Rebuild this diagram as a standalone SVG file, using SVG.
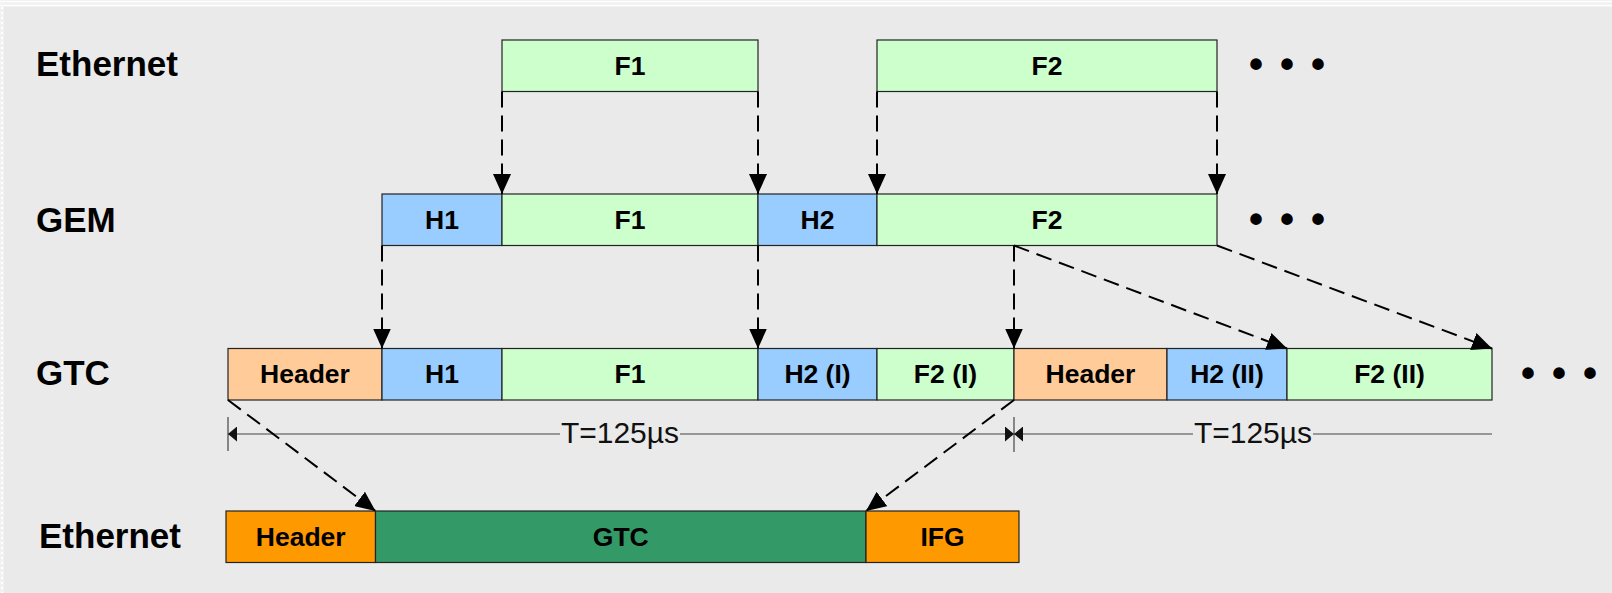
<svg xmlns="http://www.w3.org/2000/svg" width="1612" height="593" viewBox="0 0 1612 593">
  <style>
    .lbl { font-family: "Liberation Sans", Arial, sans-serif; font-weight: bold; font-size: 35px; fill: #000; }
    .cell { stroke: #222; stroke-width: 1.2; }
    .txt { font-family: "Liberation Sans", Arial, sans-serif; font-weight: bold; font-size: 26.5px; fill: #000; text-anchor: middle; }
    .dots { font-family: "Liberation Sans", Arial, sans-serif; font-weight: bold; font-size: 40px; letter-spacing: 17px; fill: #000; }
    .green { fill: #CCFFCC; }
    .blue { fill: #99CCFF; }
    .peach { fill: #FFCC99; }
    .orange { fill: #FF9900; }
    .dark { fill: #339966; }
    .link { fill: none; stroke: #000; stroke-width: 2; stroke-dasharray: 16 8; marker-end: url(#arrow); }
    .dim { fill: none; stroke: #444; stroke-width: 1.2; }
    .dimtxt { font-family: "Liberation Sans", Arial, sans-serif; font-size: 30px; fill: #111; text-anchor: middle; }
  </style>
  <defs>
    <marker id="arrow" markerUnits="userSpaceOnUse" viewBox="0 0 20 18" refX="20" refY="9" markerWidth="20" markerHeight="18" orient="auto">
      <path d="M0,0 L20,9 L0,18 z" fill="#000"/>
    </marker>
    <marker id="dimarrow" markerUnits="userSpaceOnUse" viewBox="0 0 9 15" refX="9" refY="7.5" markerWidth="9" markerHeight="15" orient="auto">
      <path d="M0,0 L9,7.5 L0,15 z" fill="#111"/>
    </marker>
  </defs>

  <!-- page background with light top frame -->
  <rect x="0" y="0" width="1612" height="593" fill="#EAEAEA"/>
  <rect x="0" y="0" width="1612" height="7" fill="#F3F3F3"/>
  <line x1="0" y1="1.5" x2="1612" y2="1.5" stroke="#FFFFFF" stroke-width="1"/>
  <line x1="0" y1="5.5" x2="1612" y2="5.5" stroke="#FFFFFF" stroke-width="1"/>
  <rect x="0" y="7" width="4" height="586" fill="#F1F1F1"/>
  <line x1="2" y1="7" x2="2" y2="593" stroke="#FFFFFF" stroke-width="2" stroke-dasharray="2 3"/>

  <!-- row titles -->
  <g id="row-labels">
    <text class="lbl" x="36" y="76">Ethernet</text>
    <text class="lbl" x="36" y="231.5">GEM</text>
    <text class="lbl" x="36" y="385">GTC</text>
    <text class="lbl" x="39" y="547.5">Ethernet</text>
  </g>

  <!-- Ethernet frames -->
  <g id="eth-f1">
    <rect class="cell green" x="502" y="40" width="256" height="51.5"/>
    <text class="txt" x="630" y="74.5">F1</text>
  </g>
  <g id="eth-f2">
    <rect class="cell green" x="877" y="40" width="340" height="51.5"/>
    <text class="txt" x="1047" y="74.5">F2</text>
  </g>
  <text class="dots" x="1249" y="78">•••</text>

  <!-- GEM frames -->
  <g id="gem-h1">
    <rect class="cell blue" x="382" y="194" width="120" height="51.5"/>
    <text class="txt" x="442" y="229">H1</text>
  </g>
  <g id="gem-f1">
    <rect class="cell green" x="502" y="194" width="256" height="51.5"/>
    <text class="txt" x="630" y="229">F1</text>
  </g>
  <g id="gem-h2">
    <rect class="cell blue" x="758" y="194" width="119" height="51.5"/>
    <text class="txt" x="817.5" y="229">H2</text>
  </g>
  <g id="gem-f2">
    <rect class="cell green" x="877" y="194" width="340" height="51.5"/>
    <text class="txt" x="1047" y="229">F2</text>
  </g>
  <text class="dots" x="1249" y="232.5">•••</text>

  <!-- GTC frames -->
  <g id="gtc-header1">
    <rect class="cell peach" x="228" y="348.5" width="154" height="51.5"/>
    <text class="txt" x="305" y="383">Header</text>
  </g>
  <g id="gtc-h1">
    <rect class="cell blue" x="382" y="348.5" width="120" height="51.5"/>
    <text class="txt" x="442" y="383">H1</text>
  </g>
  <g id="gtc-f1">
    <rect class="cell green" x="502" y="348.5" width="256" height="51.5"/>
    <text class="txt" x="630" y="383">F1</text>
  </g>
  <g id="gtc-h2-i">
    <rect class="cell blue" x="758" y="348.5" width="119" height="51.5"/>
    <text class="txt" x="817.5" y="383">H2 (I)</text>
  </g>
  <g id="gtc-f2-i">
    <rect class="cell green" x="877" y="348.5" width="137" height="51.5"/>
    <text class="txt" x="945.5" y="383">F2 (I)</text>
  </g>
  <g id="gtc-header2">
    <rect class="cell peach" x="1014" y="348.5" width="153" height="51.5"/>
    <text class="txt" x="1090.5" y="383">Header</text>
  </g>
  <g id="gtc-h2-ii">
    <rect class="cell blue" x="1167" y="348.5" width="120" height="51.5"/>
    <text class="txt" x="1227" y="383">H2 (II)</text>
  </g>
  <g id="gtc-f2-ii">
    <rect class="cell green" x="1287" y="348.5" width="205" height="51.5"/>
    <text class="txt" x="1389.5" y="383">F2 (II)</text>
  </g>
  <text class="dots" x="1521" y="387">•••</text>

  <!-- Ethernet carrier frame -->
  <g id="eth-header">
    <rect class="cell orange" x="226" y="511" width="149.5" height="51.5"/>
    <text class="txt" x="300.75" y="546">Header</text>
  </g>
  <g id="eth-gtc">
    <rect class="cell dark" x="375.5" y="511" width="490.5" height="51.5"/>
    <text class="txt" x="620.75" y="546">GTC</text>
  </g>
  <g id="eth-ifg">
    <rect class="cell orange" x="866" y="511" width="153" height="51.5"/>
    <text class="txt" x="942.5" y="546">IFG</text>
  </g>

  <!-- frame period dimensions -->
  <g id="period-dims">
    <line class="dim" x1="228" y1="417" x2="228" y2="451"/>
    <line class="dim" x1="1014" y1="417" x2="1014" y2="452"/>
    <line class="dim" x1="560" y1="434" x2="228" y2="434" marker-end="url(#dimarrow)"/>
    <line class="dim" x1="680" y1="434" x2="1014" y2="434" marker-end="url(#dimarrow)"/>
    <text class="dimtxt" x="620" y="442.5">T=125µs</text>
    <line class="dim" x1="1193" y1="434" x2="1014" y2="434" marker-end="url(#dimarrow)"/>
    <line class="dim" x1="1313" y1="434" x2="1492" y2="434"/>
    <text class="dimtxt" x="1253" y="442.5">T=125µs</text>
  </g>

  <!-- mapping connectors -->
  <g id="connectors">
    <line class="link" x1="502" y1="91.5" x2="502" y2="194"/>
    <line class="link" x1="758" y1="91.5" x2="758" y2="194"/>
    <line class="link" x1="877" y1="91.5" x2="877" y2="194"/>
    <line class="link" x1="1217" y1="91.5" x2="1217" y2="194"/>
    <line class="link" x1="382" y1="245.5" x2="382" y2="348.5"/>
    <line class="link" x1="758" y1="245.5" x2="758" y2="348.5"/>
    <line class="link" x1="1014" y1="245.5" x2="1014" y2="348.5"/>
    <line class="link" x1="1014" y1="245.5" x2="1287" y2="348.5"/>
    <line class="link" x1="1217" y1="245.5" x2="1492" y2="348.5"/>
    <line class="link" x1="228" y1="400" x2="375.5" y2="511"/>
    <line class="link" x1="1014" y1="400" x2="866" y2="511"/>
  </g>
</svg>
